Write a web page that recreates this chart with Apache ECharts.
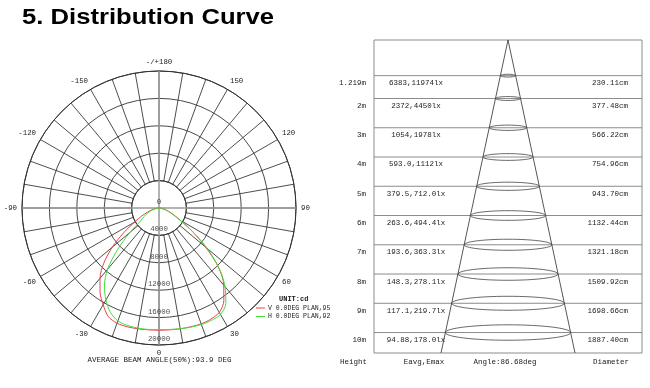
<!DOCTYPE html>
<html><head><meta charset="utf-8">
<script src="https://cdn.jsdelivr.net/npm/echarts@6/dist/echarts.min.js"></script>
<style>html,body{margin:0;padding:0;background:#fff}#c{width:650px;height:388px}</style>
</head><body><div id="c"></div>
<script>
// ---------- data ----------
const titleText = '5. Distribution Curve';
const beamText = 'AVERAGE BEAM ANGLE(50%):93.9 DEG';
const unitText = 'UNIT:cd';
const legendNames = ['V 0.0DEG PLAN,95.4', 'H 0.0DEG PLAN,92.4'];
// polar curve (angle from nadir, deg) and intensity (cd)
const angles = [-90,-85,-80,-75,-70,-65,-60,-55,-50,-45,-40,-35,-30,-25,-20,-15,-10,-5,0,5,10,15,20,25,30,35,40,45,50,55,60,65,70,75,80,85,90];
const vPlane = [0,250,600,1100,1800,2800,4100,6300,8900,11400,13400,15000,16300,17500,17900,17950,17900,17850,17850,17850,17900,17950,18000,17900,17600,16500,14700,12300,8900,5900,3600,2400,1600,1000,550,250,0];
const hPlane = [0,200,450,800,1300,1900,2600,3300,5500,8500,11700,13900,15500,16800,17550,17750,17800,17800,17750,17800,17900,18000,18100,18100,17950,17000,15000,12400,9200,6000,3500,2200,1400,900,500,200,0];
const ringValues = [0, 4000, 8000, 12000, 16000, 20000];
// illuminance table
const heights = [1.219, 2, 3, 4, 5, 6, 7, 8, 9, 10];
const heightLabels = ['1.219m','2m','3m','4m','5m','6m','7m','8m','9m','10m'];
const illuminance = ['6383,11974lx','2372,4450lx','1054,1978lx','593.0,1112lx','379.5,712.0lx','263.6,494.4lx','193.6,363.3lx','148.3,278.1lx','117.1,219.7lx','94.88,178.0lx'];
const diameters = ['230.11cm','377.48cm','566.22cm','754.96cm','943.70cm','1132.44cm','1321.18cm','1509.92cm','1698.66cm','1887.40cm'];
const footerLabels = ['Height', 'Eavg,Emax', 'Angle:86.68deg', 'Diameter'];
const tableDepth = 10.7;   // metres shown in the cone box
const coneSpread = 0.5;    // schematic half width at bottom

// ---------- chart ----------
const mono = "'Liberation Mono','DejaVu Sans Mono',monospace";
const txt = '#222';
const chart = echarts.init(document.getElementById('c'), null, {renderer: 'canvas'});
const toAxis = a => (a + 360) % 360;

const rowSeries = {
  type: 'custom',
  coordinateSystem: 'cartesian2d',
  data: heights.map((h, i) => [0, h, i]),
  z: 3,
  renderItem: function (params, api) {
    const i = params.dataIndex;
    const h = api.value(1);
    const cs = params.coordSys;
    const p = api.coord([0, h]);
    const rx = api.size([coneSpread * h / tableDepth, 0])[0];
    const f = '7.5px ' + mono;
    return {
      type: 'group',
      children: [
        {type: 'line', shape: {x1: cs.x, y1: p[1], x2: cs.x + cs.width, y2: p[1]}, style: {stroke: '#8c8c8c', lineWidth: 1}},
        {type: 'ellipse', shape: {cx: p[0], cy: p[1], rx: rx, ry: rx * 0.115 + 0.5}, style: {fill: null, stroke: '#444', lineWidth: 0.8}},
        {type: 'text', x: cs.x - 8, y: p[1] + 7.5, style: {text: heightLabels[i], align: 'right', verticalAlign: 'middle', font: f, fill: txt}},
        {type: 'text', x: cs.x + 42, y: p[1] + 7.5, style: {text: illuminance[i], align: 'center', verticalAlign: 'middle', font: f, fill: txt}},
        {type: 'text', x: cs.x + cs.width - 14, y: p[1] + 7.5, style: {text: diameters[i], align: 'right', verticalAlign: 'middle', font: f, fill: txt}}
      ]
    };
  }
};

const footerSeries = {
  type: 'custom',
  coordinateSystem: 'cartesian2d',
  data: [[0, tableDepth]],
  renderItem: function (params, api) {
    const cs = params.coordSys;
    const y = cs.y + cs.height + 9;
    const f = '7.5px ' + mono;
    const xs = [cs.x - 7, cs.x + 50, cs.x + cs.width / 2 - 3, cs.x + cs.width - 13];
    const al = ['right', 'center', 'center', 'right'];
    return {type: 'group', children: footerLabels.map((t, k) => ({
      type: 'text', x: xs[k], y: y, style: {text: t, align: al[k], verticalAlign: 'middle', font: f, fill: txt}
    }))};
  }
};

const option = {
  backgroundColor: '#fff',
  animation: false,
  polar: [
    {center: [159, 208], radius: [27.4, 137]},
    {center: [159, 208], radius: [0, 137]}
  ],
  angleAxis: [
    {polarIndex: 0, type: 'value', min: 0, max: 360, interval: 10, startAngle: -90, clockwise: false,
      axisLine: {show: true, lineStyle: {color: '#333', width: 1}},
      axisTick: {show: false},
      splitLine: {show: true, lineStyle: {color: '#3a3a3a', width: 0.9}},
      axisLabel: {show: true, margin: 5, color: txt, fontFamily: mono, fontSize: 7.4,
        formatter: function (v) { if (v % 30 !== 0 || v === 360) return ''; if (v === 180) return '-/+180'; return String(v > 180 ? v - 360 : v); }}
    },
    {polarIndex: 1, type: 'value', min: 0, max: 360, interval: 90, startAngle: -90, clockwise: false, z: 2,
      axisLine: {show: false}, axisTick: {show: false}, axisLabel: {show: false},
      splitLine: {show: true, lineStyle: {color: '#9a9a9a', width: 1.5}}
    }
  ],
  radiusAxis: [
    {polarIndex: 0, type: 'value', min: 0, max: 20000, axisLine: {show: false}, axisTick: {show: false}, axisLabel: {show: false}, splitLine: {show: false}},
    {polarIndex: 1, type: 'value', min: 0, max: 20000, interval: 4000, z: 1,
      axisLine: {show: false}, axisTick: {show: false}, axisLabel: {show: false},
      splitLine: {show: true, lineStyle: {color: '#333', width: 0.9}}
    }
  ],
  grid: {left: 374, top: 40, width: 268, height: 313, show: true, borderColor: '#8c8c8c', borderWidth: 1, backgroundColor: 'transparent'},
  xAxis: {type: 'value', min: -1, max: 1, show: false},
  yAxis: {type: 'value', min: 0, max: tableDepth, inverse: true, show: false},
  series: [
    {type: 'line', coordinateSystem: 'polar', polarIndex: 1, name: legendNames[0], smooth: 0.3, symbol: 'none', z: 5,
      lineStyle: {color: '#e8434b', width: 1}, data: angles.map((a, i) => [vPlane[i], toAxis(a)])},
    {type: 'line', coordinateSystem: 'polar', polarIndex: 1, name: legendNames[1], smooth: 0.3, symbol: 'none', z: 6,
      lineStyle: {color: '#3fe03f', width: 1}, data: angles.map((a, i) => [hPlane[i], toAxis(a)])},
    {type: 'scatter', coordinateSystem: 'polar', polarIndex: 1, symbolSize: 0, z: 7, silent: true,
      data: ringValues.map(r => [r, 0]),
      label: {show: true, position: 'top', distance: 2.5, color: txt, fontFamily: mono, fontSize: 7.4, formatter: p => String(p.value[0])}},
    {type: 'line', coordinateSystem: 'cartesian2d', symbol: 'none', z: 4,
      lineStyle: {color: '#444', width: 0.9},
      data: [[-coneSpread, tableDepth], [0, 0], [coneSpread, tableDepth]]},
    rowSeries,
    footerSeries
  ],
  graphic: [
    {type: 'text', x: 22, y: 18, scaleX: 1.165, style: {text: titleText, verticalAlign: 'middle', font: "bold 22px 'Liberation Sans', Arial, sans-serif", fill: '#000'}},
    {type: 'text', x: 159.5, y: 360, style: {text: beamText, align: 'center', verticalAlign: 'middle', font: '7.5px ' + mono, fill: txt}},
    {type: 'text', x: 279, y: 299, style: {text: unitText, verticalAlign: 'middle', font: 'bold 7px ' + mono, fill: txt}},
    {type: 'line', shape: {x1: 256, y1: 308, x2: 265, y2: 308}, style: {stroke: '#e8434b', lineWidth: 1}},
    {type: 'text', x: 268, y: 308, style: {text: legendNames[0], verticalAlign: 'middle', font: '6.5px ' + mono, fill: txt, width: 67, overflow: 'truncate', ellipsis: ''}},
    {type: 'line', shape: {x1: 256, y1: 316.5, x2: 265, y2: 316.5}, style: {stroke: '#3fe03f', lineWidth: 1}},
    {type: 'text', x: 268, y: 316.5, style: {text: legendNames[1], verticalAlign: 'middle', font: '6.5px ' + mono, fill: txt, width: 67, overflow: 'truncate', ellipsis: ''}}
  ]
};
chart.setOption(option);
</script>
</body></html>
